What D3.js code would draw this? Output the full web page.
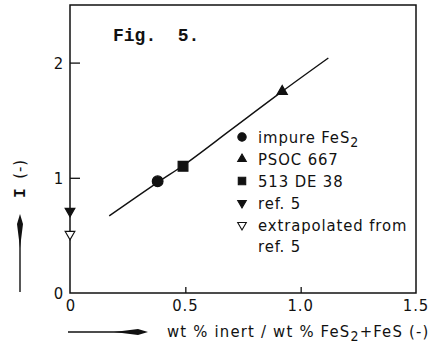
<!DOCTYPE html>
<html>
<head>
<meta charset="utf-8">
<script src="https://cdn.jsdelivr.net/npm/d3@7"></script>
<style>
  body { margin: 0; background: #fff; }
  svg { display: block; }
  .lbl { font-family: "Liberation Sans Narrow", "DejaVu Sans Condensed", "Liberation Sans", sans-serif; font-size: 16.5px; letter-spacing: 0.9px; fill: #111; }
</style>
</head>
<body>
<div id="chart"></div>
<script>
// values
const xTicks = [0, 0.5, 1.0, 1.5]
const xTickLabels = ['0', '0.5', '1.0', '1.5']
const yTicks = [0, 1, 2]
const yTickLabels = ['0', '1', '2']

const seriesNames = ['impure FeS2', 'PSOC 667', '513 DE 38', 'ref. 5', 'extrapolated from ref. 5']
const seriesX = [0.38, 0.92, 0.49, 0, 0]
const seriesY = [0.97, 1.75, 1.10, 0.71, 0.51]

// fitted line through the points
const curveX = [0.17, 0.38, 0.5, 0.7, 0.92, 1.12]
const curveY = [0.67, 0.96, 1.12, 1.42, 1.75, 2.04]

const W = 438, H = 343

let svg = d3.select('#chart')
    .append('svg')
    .attr('width', W)
    .attr('height', H)

let x = d3.scaleLinear().domain([0, 1.5]).range([70, 416])
let y = d3.scaleLinear().domain([0, 2.5]).range([293, 5])

// frame
svg.append('rect')
    .attr('x', x(0)).attr('y', y(2.5))
    .attr('width', x(1.5) - x(0)).attr('height', y(0) - y(2.5))
    .attr('fill', 'none').attr('stroke', '#111').attr('stroke-width', 1.5)

// axes with inward ticks
let xAxis = d3.axisTop(x).tickValues(xTicks.slice(1, 3)).tickSize(6).tickFormat('')
svg.append('g').attr('transform', `translate(0,${y(0)})`).call(xAxis)
    .call(g => g.select('.domain').remove())
    .selectAll('line').attr('stroke', '#111').attr('stroke-width', 1.3)

let yAxis = d3.axisRight(y).tickValues(yTicks.slice(1)).tickSize(10).tickFormat('')
svg.append('g').attr('transform', `translate(${x(0)},0)`).call(yAxis)
    .call(g => g.select('.domain').remove())
    .selectAll('line').attr('stroke', '#111').attr('stroke-width', 1.3)

svg.selectAll('.xtl')
    .data(xTicks)
    .enter()
    .append('text')
    .attr('class', 'lbl')
    .attr('x', d => x(d) + (d == 0 ? 1 : 0))
    .attr('y', y(0) + 18)
    .attr('text-anchor', 'middle')
    .text((d, i) => xTickLabels[i])

svg.selectAll('.ytl')
    .data(yTicks)
    .enter()
    .append('text')
    .attr('class', 'lbl')
    .attr('x', x(0) - 6)
    .attr('y', d => y(d) + 6)
    .attr('text-anchor', 'end')
    .text((d, i) => yTickLabels[i])

// fit line
let line = d3.line()
    .x(d => x(d[0]))
    .y(d => y(d[1]))
    .curve(d3.curveCatmullRom)

svg.append('path')
    .attr('d', line(d3.zip(curveX, curveY)))
    .attr('fill', 'none')
    .attr('stroke', '#111')
    .attr('stroke-width', 1.4)

// markers
const shapes = [
    {type: d3.symbolCircle, size: 90, rot: 0, fill: '#111'},
    {type: d3.symbolTriangle, size: 45, rot: 0, fill: '#111'},
    {type: d3.symbolSquare, size: 95, rot: 0, fill: '#111'},
    {type: d3.symbolTriangle, size: 40, rot: 180, fill: '#111'},
    {type: d3.symbolTriangle, size: 40, rot: 180, fill: '#fff'}
]

svg.selectAll('.pt')
    .data(seriesNames)
    .enter()
    .append('path')
    .attr('d', (d, i) => d3.symbol().type(shapes[i].type).size(shapes[i].size)())
    .attr('transform', (d, i) => `translate(${x(seriesX[i])},${y(seriesY[i])}) rotate(${shapes[i].rot})`)
    .attr('fill', (d, i) => shapes[i].fill)
    .attr('stroke', '#111')
    .attr('stroke-width', 1.2)

// legend
const legendSize = [55, 32, 55, 32, 32]
let legend = svg.append('g').attr('transform', 'translate(242,137)')

let rows = legend.selectAll('g')
    .data(seriesNames)
    .enter()
    .append('g')
    .attr('transform', (d, i) => `translate(0,${i * 22})`)

rows.append('path')
    .attr('d', (d, i) => d3.symbol().type(shapes[i].type).size(legendSize[i])())
    .attr('transform', (d, i) => `rotate(${shapes[i].rot})`)
    .attr('fill', (d, i) => shapes[i].fill)
    .attr('stroke', '#111')
    .attr('stroke-width', 1.1)

rows.each(function(d, i)
{
    let t = d3.select(this).append('text').attr('class', 'lbl').attr('x', 16).attr('y', 6)
    if (d == 'impure FeS2')
    {
        t.append('tspan').text('impure FeS')
        t.append('tspan').attr('dy', 4).attr('font-size', 14).text('2')
    }
    else if (d.indexOf('extrapolated') == 0)
    {
        t.text('extrapolated from')
        d3.select(this).append('text').attr('class', 'lbl').attr('x', 16).attr('y', 27).text('ref. 5')
    }
    else
        t.text(d)
})

// figure label
svg.append('text')
    .attr('x', 113)
    .attr('y', 41)
    .attr('font-family', '"Liberation Mono", "DejaVu Sans Mono", monospace')
    .attr('font-weight', 'bold')
    .attr('font-size', 18)
    .attr('fill', '#111')
    .attr('xml:space', 'preserve')
    .text('Fig.  5.')

// axis titles with the hand-drawn arrows
function arrow(g, len)
{
    g.append('line').attr('x1', 0).attr('y1', 0).attr('x2', len - 4).attr('y2', 0)
        .attr('stroke', '#111').attr('stroke-width', 1.4)
    g.append('path')
        .attr('d', `M${len - 34},0 L${len - 10},-3 L${len},0 L${len - 10},3 Z`)
        .attr('fill', '#111')
}

arrow(svg.append('g').attr('transform', 'translate(68,332)'), 80)
arrow(svg.append('g').attr('transform', 'translate(20,292) rotate(-90)'), 78)

let xt = svg.append('text').attr('class', 'lbl').attr('x', 167).attr('y', 337).style('letter-spacing', '1.2px')
xt.append('tspan').text('wt % inert / wt % FeS')
xt.append('tspan').attr('dy', 4).attr('font-size', 14).text('2')
xt.append('tspan').attr('dy', -4).text('+FeS (-)')

let yt = svg.append('text')
    .attr('transform', 'translate(25,198) rotate(-90)')
    .attr('fill', '#111')
yt.append('tspan')
    .attr('font-family', '"Liberation Mono", monospace')
    .attr('font-weight', 'bold')
    .attr('font-size', 16)
    .text('I ')
yt.append('tspan')
    .attr('class', 'lbl')
    .text('(-)')
</script>
</body>
</html>
